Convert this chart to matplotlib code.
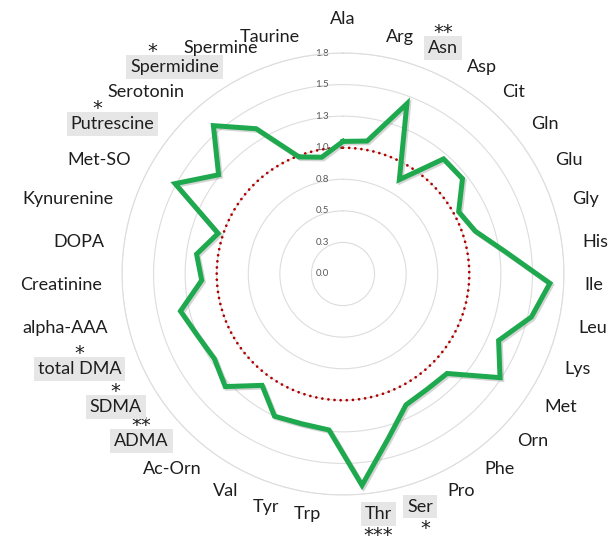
import math
import numpy as np
import matplotlib
matplotlib.use("Agg")
import matplotlib.pyplot as plt
import matplotlib.patheffects as pe

# ---------------- data ----------------
categories = ["Ala", "Arg", "Asn", "Asp", "Cit", "Gln", "Glu", "Gly", "His", "Ile",
              "Leu", "Lys", "Met", "Orn", "Phe", "Pro", "Ser", "Thr", "Trp", "Tyr",
              "Val", "Ac-Orn", "ADMA", "SDMA", "total DMA", "alpha-AAA", "Creatinine",
              "DOPA", "Kynurenine", "Met-SO", "Putrescine", "Serotonin", "Spermidine",
              "Spermine", "Taurine"]
values = [1.05, 1.07, 1.44, 0.87, 1.21, 1.21, 1.04, 1.10, 1.30, 1.64,
          1.53, 1.34, 1.49, 1.14, 1.13, 1.15, 1.35, 1.68, 1.24, 1.23,
          1.25, 1.09, 1.29, 1.22, 1.25, 1.32, 1.12,
          1.17, 1.04, 1.51, 1.26, 1.56, 1.34,
          0.99, 0.94]
reference_level = 1.0
radial_ticks = [0.0, 0.25, 0.5, 0.75, 1.0, 1.25, 1.5, 1.75]
highlighted = ["Asn", "Spermidine", "Putrescine", "total DMA", "SDMA", "ADMA", "Thr", "Ser"]
significance = {"Asn": "**", "Spermidine": "*", "Putrescine": "*", "total DMA": "*",
                "SDMA": "*", "ADMA": "**", "Thr": "***", "Ser": "*"}
# horizontal nudges (points) of the significance marks relative to label centre
star_nudge = {"Spermidine": -16, "Putrescine": -11, "Ser": 4}

# ---------------- style ----------------
plt.rcParams["font.family"] = ["Lato", "DejaVu Sans"]
GREEN = "#1EA94F"
RED = "#B00000"
GRID = "#DDDDDD"
TEXT = "#1E1E1E"
LABEL_FS = 13
STAR_FS = 14
TICK_FS = 7
LABEL_R = 1.91

fig = plt.figure(figsize=(6.08, 5.38), dpi=100)
ax = fig.add_axes([122 / 608, 43 / 538, 442 / 608, 442 / 538], projection="polar")
ax.set_theta_zero_location("N")
ax.set_theta_direction(-1)
ax.set_ylim(0, radial_ticks[-1])
ax.set_yticks(radial_ticks)
ax.set_yticklabels([])
ax.set_xticks([])
ax.yaxis.grid(True, color=GRID, lw=0.8)
ax.xaxis.grid(False)
ax.spines["polar"].set_color(GRID)
ax.spines["polar"].set_linewidth(0.8)
ax.set_facecolor("white")

n = len(categories)
theta = np.arange(n) * 2 * np.pi / n

# radial tick labels (Excel-style rounding to one decimal)
for r in radial_ticks:
    lab = "%.1f" % (math.floor(r * 10 + 0.5) / 10)
    ax.annotate(lab, xy=(0, r), xytext=(-10, 0), textcoords="offset points",
                ha="right", va="center", fontsize=TICK_FS, color="#595959", zorder=2)

# reference circle
tt = np.linspace(0, 2 * np.pi, 721)
ax.plot(tt, np.full_like(tt, reference_level), color=RED, lw=2.0,
        linestyle=(0, (0.01, 2.2)), dash_capstyle="round", zorder=3)

# data polygon
th_c = np.append(theta, theta[0])
v_c = np.append(values, values[0])
ax.plot(th_c, v_c, color=GREEN, lw=3.6, solid_joinstyle="miter", zorder=4,
        path_effects=[pe.SimpleLineShadow(offset=(1.2, -1.2), shadow_color="#888888", alpha=0.35),
                      pe.Normal()])

# category labels
for name, th in zip(categories, theta):
    s = math.sin(th)
    c = math.cos(th)
    if abs(s) < 1e-6:
        ha = "center"
    elif s > 0:
        ha = "left"
    else:
        ha = "right"
    va = "center"
    off = (0, 0)
    if abs(s) < 1e-6 and c > 0:
        va = "bottom"
        off = (0, 4)
    kw = {}
    if name in highlighted:
        kw["bbox"] = dict(boxstyle="square,pad=0.22", fc="#E6E6E6", ec="none")
    t = ax.annotate(name, xy=(th, LABEL_R), xytext=off, textcoords="offset points",
                    ha=ha, va=va, fontsize=LABEL_FS, color=TEXT,
                    annotation_clip=False, **kw)
    if name in significance:
        stars = significance[name]
        dx = star_nudge.get(name, 0)
        if c < -0.9:
            ax.annotate(stars, xy=(0.5, 0), xycoords=t, xytext=(dx, -3),
                        textcoords="offset points", ha="center", va="top",
                        fontsize=STAR_FS, color=TEXT, family="DejaVu Sans",
                        annotation_clip=False)
        else:
            ax.annotate(stars, xy=(0.5, 1), xycoords=t, xytext=(dx, -1.5),
                        textcoords="offset points", ha="center", va="bottom",
                        fontsize=STAR_FS, color=TEXT, family="DejaVu Sans",
                        annotation_clip=False)

fig.savefig("out.png", dpi=100, facecolor="white")
